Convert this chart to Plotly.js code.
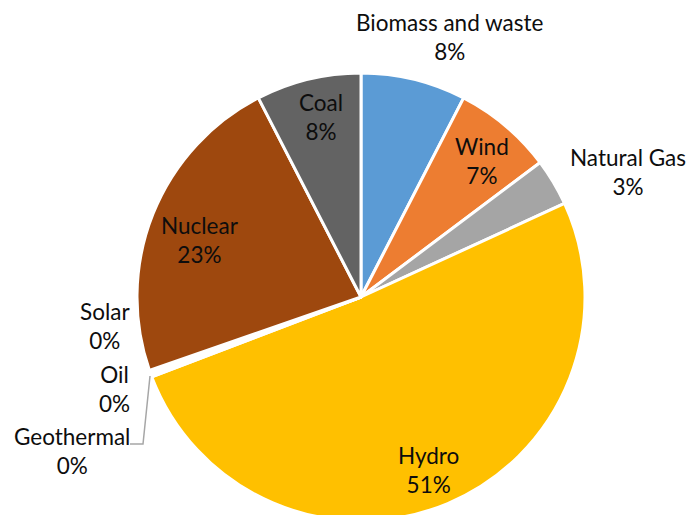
<!DOCTYPE html>
<html>
<head>
<meta charset="utf-8">
<script src="https://cdn.plot.ly/plotly-3.0.1.min.js"></script>
<style>
html,body{margin:0;padding:0;overflow:hidden;background:#fff;}
#chart{width:686px;height:530px;}
</style>
</head>
<body>
<div id="chart"></div>
<script>
// Data (clockwise from 12 o'clock)
var labels = ["Biomass and waste", "Wind", "Natural Gas", "Hydro", "Geothermal", "Oil", "Solar", "Nuclear", "Coal"];
var values = [7.6, 7.2, 3.4, 51.2, 0.2, 0.2, 0.1, 22.8, 7.6];
var displayPct = ["8%", "7%", "3%", "51%", "0%", "0%", "0%", "23%", "8%"];
var colors = ["#5B9BD5", "#ED7D31", "#A5A5A5", "#FFC000", "#4472C4", "#70AD47", "#264478", "#9E480E", "#636363"];

// Label placement (pixel positions of label centres; style only)
var W = 686, H = 530;
var labelPos = [
  [450, 37], [482, 161], [628, 172], [428, 470],
  [72, 451], [114, 389], [105, 326], [200, 240], [321, 117]
];

var annotations = labels.map(function(l, i) {
  return {
    x: labelPos[i][0] / W, y: 1 - labelPos[i][1] / H,
    xref: "paper", yref: "paper", xanchor: "center", yanchor: "middle",
    text: l + "<br>" + displayPct[i], showarrow: false, align: "center",
    font: {family: "Lato, 'Open Sans', sans-serif", size: 22.5, color: "#0D0D0D"}
  };
});

var cx0 = 137, cx1 = 585, cy0 = 73, cy1 = 521;
var data = [{
  type: "pie",
  labels: labels,
  values: values,
  sort: false,
  direction: "clockwise",
  rotation: 0,
  textinfo: "none",
  hoverinfo: "label+percent",
  marker: {colors: colors, line: {color: "#FFFFFF", width: 3}},
  domain: {x: [cx0 / W, cx1 / W], y: [1 - cy1 / H, 1 - cy0 / H]},
  showlegend: false
}];

var layout = {
  width: W, height: H,
  margin: {l: 0, r: 0, t: 0, b: 0},
  paper_bgcolor: "#fff",
  showlegend: false,
  annotations: annotations,
  shapes: [{
    type: "path", xref: "paper", yref: "paper",
    path: "M " + (130 / W) + " " + (1 - 444 / H) + " L " + (143 / W) + " " + (1 - 444 / H) + " L " + (150 / W) + " " + (1 - 376 / H),
    line: {color: "#A6A6A6", width: 1.5}
  }]
};

Plotly.newPlot("chart", data, layout, {staticPlot: true, displayModeBar: false});
</script>
</body>
</html>
